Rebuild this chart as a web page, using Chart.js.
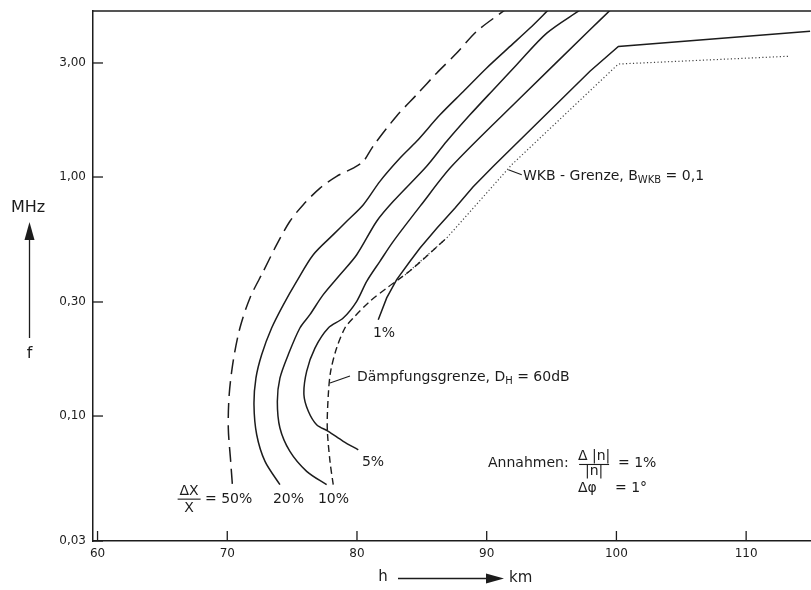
<!DOCTYPE html>
<html><head><meta charset="utf-8">
<script src="https://cdn.jsdelivr.net/npm/chart.js@4.4.0/dist/chart.umd.min.js"></script>
<style>html,body{margin:0;padding:0;background:#fff;}canvas{display:block;}</style>
</head><body>
<canvas id="c" width="811" height="590"></canvas>
<script>
// ---- data (h in km, f in MHz) ----
const xTicks = [60, 70, 80, 90, 100, 110];
const yTicks = [0.03, 0.1, 0.3, 1, 3];

const h50 = [70.39, 70.26, 70.08, 70.15, 70.46, 70.98, 71.75, 72.78, 73.81, 74.83, 75.86, 77.15, 78.43, 79.71, 80.49, 81.26, 83.06, 84.6, 86.14, 87.69, 89.23, 91.41];
const f50 = [0.052, 0.065, 0.089, 0.123, 0.170, 0.234, 0.312, 0.403, 0.521, 0.653, 0.766, 0.899, 1.007, 1.09, 1.163, 1.35, 1.80, 2.21, 2.72, 3.30, 4.07, 5.0];

const h20 = [74.06, 72.91, 72.27, 72.06, 72.21, 72.65, 73.42, 74.32, 75.35, 76.63, 78.17, 79.21, 80.49, 81.77, 83.32, 84.6, 86.4, 88.2, 90.0, 91.8, 93.34, 94.75];
const f20 = [0.0516, 0.0646, 0.0835, 0.1115, 0.144, 0.1805, 0.2335, 0.292, 0.366, 0.473, 0.574, 0.653, 0.766, 0.959, 1.20, 1.41, 1.82, 2.28, 2.86, 3.52, 4.20, 5.0];

const h10 = [77.66, 76.12, 74.83, 74.06, 73.86, 74.06, 74.70, 75.6, 76.37, 77.4, 78.69, 79.98, 81.52, 82.8, 85.37, 86.92, 88.71, 90.51, 92.31, 94.63, 97.2];
const f10 = [0.0516, 0.0587, 0.0711, 0.0891, 0.115, 0.144, 0.1805, 0.2335, 0.2655, 0.322, 0.390, 0.473, 0.653, 0.791, 1.109, 1.41, 1.82, 2.32, 2.95, 4.0, 5.0];

const h5 = [80.1, 78.94, 77.79, 76.89, 76.25, 75.91, 76.12, 76.76, 77.79, 78.94, 79.98, 80.75, 81.77, 82.8, 85.0, 87.3, 92.58, 97.96, 99.54];
const f5 = [0.0722, 0.0784, 0.0863, 0.092, 0.1047, 0.1228, 0.1538, 0.1925, 0.2335, 0.257, 0.302, 0.366, 0.444, 0.538, 0.771, 1.109, 2.14, 4.13, 5.0];

const h1 = [81.64, 82.29, 83.06, 84.09, 84.86, 86.17, 87.56, 88.94, 90.51, 97.96, 100.15, 114.93];
const f1 = [0.253, 0.312, 0.372, 0.444, 0.505, 0.612, 0.742, 0.908, 1.109, 2.77, 3.52, 4.07];

const hDaempf = [78.17, 77.92, 77.71, 77.79, 77.97, 78.43, 79.07, 79.71, 81.0, 82.29, 83.18, 84.34, 86.92];
const fDaempf = [0.0516, 0.0646, 0.0891, 0.1228, 0.1538, 0.1925, 0.2335, 0.257, 0.302, 0.343, 0.372, 0.416, 0.556];

const hWKB = [83.7, 86.92, 91.93, 100.15, 113.25];
const fWKB = [0.389, 0.556, 1.126, 2.97, 3.2];

// ---- helpers ----
const INK = '#1c1c1c';
const FONT = '"DejaVu Sans", sans-serif';
const pts = (hs, fs) => hs.map((h, i) => ({x: h, y: fs[i]}));
function ds(label, hs, fs, dash, opts = {}) {
  return Object.assign({
    label, data: pts(hs, fs), showLine: true, pointRadius: 0,
    borderColor: INK, borderWidth: 1.5, borderDash: dash, tension: 0.3, fill: false
  }, opts);
}

const deco = {
  id: 'deco',
  afterDraw(chart) {
    const {ctx, chartArea: a, scales: {x, y}} = chart;
    const P = (h, f) => [x.getPixelForValue(h), y.getPixelForValue(f)];
    ctx.save();
    ctx.strokeStyle = INK; ctx.fillStyle = INK; ctx.lineWidth = 1.5;
    // top frame
    ctx.beginPath(); ctx.moveTo(a.left, a.top); ctx.lineTo(a.right, a.top); ctx.stroke();
    // inward tick marks
    ctx.lineWidth = 1.3;
    yTicks.forEach(v => { const py = y.getPixelForValue(v); ctx.beginPath(); ctx.moveTo(a.left, py); ctx.lineTo(a.left + 10, py); ctx.stroke(); });
    xTicks.forEach(v => { const px = x.getPixelForValue(v); ctx.beginPath(); ctx.moveTo(px, a.bottom); ctx.lineTo(px, a.bottom - 10); ctx.stroke(); });

    function runs(list, px, pyMid) {
      ctx.textAlign = 'left'; ctx.textBaseline = 'alphabetic';
      let cx = px; const base = pyMid + 5;
      for (const r of list) {
        ctx.font = (r.sub ? '10px ' : '14px ') + FONT;
        ctx.fillText(r.t, cx, base + (r.sub ? 3 : 0));
        cx += ctx.measureText(r.t).width;
      }
    }
    function text(s, h, f, align = 'left', size = 14) {
      const [px, py] = P(h, f);
      ctx.font = size + 'px ' + FONT; ctx.textAlign = align; ctx.textBaseline = 'middle';
      ctx.fillText(s, px, py);
    }
    function frac(num, den, h, fNum, fBar, fDen, w) {
      const [px] = P(h, fNum);
      text(num, h, fNum, 'center');
      text(den, h, fDen, 'center');
      const pyb = y.getPixelForValue(fBar);
      ctx.lineWidth = 1.1;
      ctx.beginPath(); ctx.moveTo(px - w / 2, pyb); ctx.lineTo(px + w / 2, pyb); ctx.stroke();
    }
    function seg(h1, f1, h2, f2) {
      const [x1, y1] = P(h1, f1), [x2, y2] = P(h2, f2);
      ctx.lineWidth = 1.1; ctx.beginPath(); ctx.moveTo(x1, y1); ctx.lineTo(x2, y2); ctx.stroke();
    }

    // curve labels
    frac('\u0394X', 'X', 67.06, 0.0486, 0.0449, 0.0410, 23);
    text('= 50%', 68.28, 0.0448);
    text('20%', 73.52, 0.0448);
    text('10%', 76.99, 0.0448);
    text('5%', 80.38, 0.0642);
    text('1%', 81.23, 0.2225);

    // Dämpfungsgrenze
    seg(77.92, 0.1375, 79.46, 0.147);
    { const [px, py] = P(80.0, 0.147);
      runs([{t: 'D\u00e4mpfungsgrenze, D'}, {t: 'H', sub: true}, {t: ' = 60dB'}], px, py); }
    // WKB
    seg(91.67, 1.073, 92.7, 1.022);
    { const [px, py] = P(92.8, 1.022);
      runs([{t: 'WKB - Grenze, B'}, {t: 'WKB', sub: true}, {t: ' = 0,1'}], px, py); }

    // Annahmen
    text('Annahmen:', 90.1, 0.0636);
    frac('\u0394 |n|', '|n|', 98.28, 0.0676, 0.0627, 0.0586, 30);
    text('= 1%', 100.12, 0.0636);
    text('\u0394\u03c6', 97.04, 0.050);
    text('= 1\u00b0', 99.89, 0.050);

    // axis titles
    ctx.font = '16px ' + FONT; ctx.textAlign = 'center'; ctx.textBaseline = 'middle';
    ctx.fillText('MHz', 28, 208);
    ctx.fillText('f', 29.5, 354);
    ctx.lineWidth = 1.3;
    ctx.beginPath(); ctx.moveTo(29.5, 338); ctx.lineTo(29.5, 236); ctx.stroke();
    ctx.beginPath(); ctx.moveTo(29.5, 222); ctx.lineTo(24.5, 240); ctx.lineTo(34.5, 240); ctx.closePath(); ctx.fill();

    ctx.font = '15px ' + FONT;
    ctx.fillText('h', 383, 577);
    ctx.beginPath(); ctx.moveTo(398, 578.5); ctx.lineTo(490, 578.5); ctx.stroke();
    ctx.beginPath(); ctx.moveTo(504, 578.5); ctx.lineTo(486, 573.5); ctx.lineTo(486, 583.5); ctx.closePath(); ctx.fill();
    ctx.textAlign = 'left';
    ctx.fillText('km', 509, 578);
    ctx.restore();
  }
};

new Chart(document.getElementById('c'), {
  type: 'scatter',
  data: {
    datasets: [
      ds('50%', h50, f50, [15, 7]),
      ds('20%', h20, f20, []),
      ds('10%', h10, f10, []),
      ds('5%', h5, f5, []),
      ds('1%', h1, f1, [], {tension: 0}),
      ds('D\u00e4mpfungsgrenze', hDaempf, fDaempf, [7, 4], {borderWidth: 1.4}),
      ds('WKB-Grenze', hWKB, fWKB, [1.2, 2.3], {tension: 0, borderWidth: 1.2, borderColor: '#444'})
    ]
  },
  options: {
    responsive: false,
    animation: false,
    layout: {padding: {top: 11, right: 0, bottom: 0, left: 0}},
    plugins: {legend: {display: false}, tooltip: {enabled: false}},
    scales: {
      x: {
        type: 'linear', min: 59.65, max: 115,
        afterBuildTicks: s => { s.ticks = xTicks.map(v => ({value: v})); },
        afterFit: s => { s.height = 49; s.paddingLeft = 0; s.paddingRight = 0; s.paddingTop = 0; s.paddingBottom = 0; },
        grid: {display: false, drawTicks: false},
        border: {display: true, color: INK, width: 1.5},
        ticks: {padding: 6, color: INK, font: {family: FONT, size: 12}, maxRotation: 0, callback: v => String(v)}
      },
      y: {
        type: 'logarithmic', min: 0.03, max: 4.95,
        afterBuildTicks: s => { s.ticks = yTicks.map(v => ({value: v})); },
        afterFit: s => { s.width = 93; s.paddingTop = 0; s.paddingBottom = 0; s.paddingLeft = 0; s.paddingRight = 0; },
        grid: {display: false, drawTicks: false},
        border: {display: true, color: INK, width: 1.5},
        ticks: {padding: 7, color: INK, font: {family: FONT, size: 12}, callback: v => Number(v).toFixed(2).replace('.', ',')}
      }
    }
  },
  plugins: [deco]
});
</script>
</body></html>
